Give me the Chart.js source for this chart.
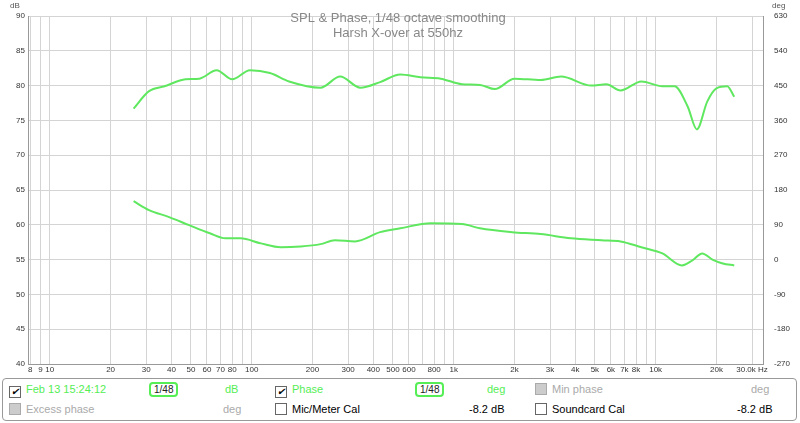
<!DOCTYPE html>
<html><head><meta charset="utf-8">
<script src="https://cdn.jsdelivr.net/npm/chart.js@4"></script>
<style>
body{margin:0;background:#fff;font-family:"Liberation Sans",Arial,sans-serif;}
#wrap{position:relative;width:800px;height:378px;}
#panel{position:absolute;left:2px;top:378px;width:793px;height:41px;border:1px solid #999;border-radius:4px;font-size:11px;}
#panel span{position:absolute;white-space:nowrap;}
.cb{display:inline-block;width:10px;height:10px;border:1px solid #666;vertical-align:-2px;margin-right:5px;font-size:10px;line-height:10px;text-align:center;color:#000;background:#fff;}
.dis{background:#ccc;border-color:#aaa;}
.sm{border:2px solid #5e5;border-radius:4px;padding:0 3px;color:#222;font-size:10px;}
.g{color:#5e5;}.gr{color:#aaa;}
</style></head><body>
<div id="wrap"><canvas id="c" width="800" height="378"></canvas></div>
<div id="panel">
<span style="left:6px;top:4px" class="g"><i class="cb">✔</i>Feb 13 15:24:12</span>
<span style="left:146px;top:3px" class="sm">1/48</span>
<span style="left:222px;top:4px" class="g">dB</span>
<span style="left:272px;top:4px" class="g"><i class="cb">✔</i>Phase</span>
<span style="left:412px;top:3px" class="sm">1/48</span>
<span style="left:484px;top:4px" class="g">deg</span>
<span style="left:532px;top:4px" class="gr"><i class="cb dis"></i>Min phase</span>
<span style="left:748px;top:4px" class="gr">deg</span>
<span style="left:6px;top:24px" class="gr"><i class="cb dis"></i>Excess phase</span>
<span style="left:220px;top:24px" class="gr">deg</span>
<span style="left:272px;top:24px"><i class="cb"></i>Mic/Meter Cal</span>
<span style="left:466px;top:24px">-8.2 dB</span>
<span style="left:532px;top:24px"><i class="cb"></i>Soundcard Cal</span>
<span style="left:734px;top:24px">-8.2 dB</span>
</div>
<script>
// SPL curve (dB)
const splFreq = [26,31,37,47,55,67,80,98,123,153,219,274,345,432,544,685,862,1100,1350,1600,2000,2700,3400,4800,5700,6700,8500,10800,12400,14400,16000,18000,20000,22600,24500];
const splDb = [76.7,79.2,79.9,80.9,81,82.2,80.9,82.2,81.8,80.6,79.7,81.3,79.7,80.5,81.6,81.2,81,80.2,80.1,79.5,81,80.8,81.3,80,80.2,79.3,80.6,79.9,79.9,77,73.7,77.7,79.6,79.9,78.4];
// phase curve (deg)
const phFreq = [26,31,39,49,62,74,88,111,139,175,219,258,325,432,544,770,1100,1350,1950,2700,3800,5400,6700,8500,10800,13500,15200,17000,19100,21500,24500];
const phDeg = [151,128,110,89,68,55,55,42,32,34,40,50,47,71,81,94,92,81,71,66,55,50,47,32,16,-15,-2,16,0,-10,-15];
const xTicks = [8,9,10,20,30,40,50,60,70,80,90,100,200,300,400,500,600,700,800,900,1000,2000,3000,4000,5000,6000,7000,8000,9000,10000,20000,30000];
const hiddenLabels = [90,700,900,9000];

const green = "#5fe85f";
function xLabel(v){
  if (hiddenLabels.includes(v)) return "";
  if (v === 30000) return "30.0k Hz";
  return v >= 1000 ? (v/1000) + "k" : String(v);
}

const titles = {
  id: "titles",
  afterDraw(chart){
    const ctx = chart.ctx;
    ctx.save();
    ctx.fillStyle = "#888";
    ctx.font = "13px 'Liberation Sans', Arial";
    ctx.textAlign = "center";
    ctx.fillText("SPL & Phase, 1/48 octave smoothing", 398, 22);
    ctx.fillText("Harsh X-over at 550hz", 398, 37);
    ctx.font = "8px 'Liberation Sans', Arial";
    ctx.fillStyle = "#555";
    ctx.textAlign = "left";
    ctx.fillText("dB", 10, 8);
    ctx.fillText("deg", 772, 8);
    ctx.restore();
  }
};

new Chart(document.getElementById("c"), {
  type: "line",
  data: {
    datasets: [
      { data: splFreq.map((f,i)=>({x:f,y:splDb[i]})), yAxisID: "y", borderColor: green, borderWidth: 2, pointRadius: 0, cubicInterpolationMode: "monotone" },
      { data: phFreq.map((f,i)=>({x:f,y:phDeg[i]})), yAxisID: "y2", borderColor: green, borderWidth: 2, pointRadius: 0, cubicInterpolationMode: "monotone" }
    ]
  },
  options: {
    responsive: false, animation: false,
    layout: { padding: { top: 16, right: 0, left: 0, bottom: 0 } },
    plugins: { legend: { display: false }, tooltip: { enabled: false } },
    scales: {
      x: {
        type: "logarithmic", min: 7.8, max: 34000,
        afterBuildTicks: s => { s.ticks = xTicks.map(v => ({ value: v })); },
        afterFit: s => { s.height = 14; },
        ticks: { autoSkip: false, maxRotation: 0, padding: 1, color: "#333", font: { size: 8 }, callback: v => xLabel(v) },
        grid: { color: "#d4d4d4", drawTicks: false },
        border: { color: "#999" }
      },
      y: {
        position: "left", min: 40, max: 90,
        afterFit: s => { s.width = 28; },
        ticks: { stepSize: 5, color: "#333", font: { size: 8 }, padding: 3 },
        grid: { color: "#d4d4d4", drawTicks: false },
        border: { color: "#999" }
      },
      y2: {
        position: "right", min: -270, max: 630,
        afterFit: s => { s.width = 37; },
        ticks: { stepSize: 90, color: "#333", font: { size: 8 }, padding: 3 },
        grid: { display: false },
        border: { color: "#999" }
      }
    }
  },
  plugins: [titles]
});
</script>
</body></html>
